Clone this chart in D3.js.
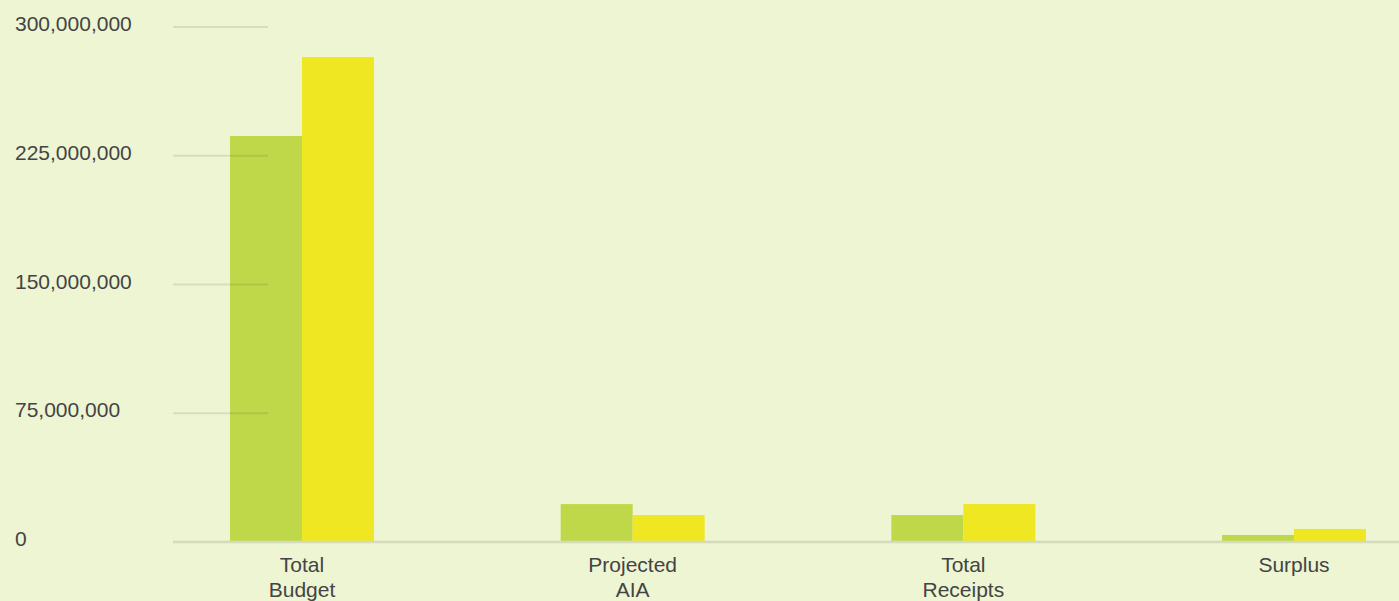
<!DOCTYPE html>
<html>
<head>
<meta charset="utf-8">
<script src="https://cdn.jsdelivr.net/npm/d3@7"></script>
<style>
  html, body { margin: 0; padding: 0; background: #eef5d3; }
  svg { display: block; }
  text { font-family: "Liberation Sans", Arial, Helvetica, sans-serif; fill: #444444; }
</style>
</head>
<body>
<svg id="chart" width="1399" height="601"></svg>
<script>
// Budget categories (labels wrap onto two lines)
const categories = ["Total Budget", "Projected AIA", "Total Receipts", "Surplus"];
const categoryLines = [["Total", "Budget"], ["Projected", "AIA"], ["Total", "Receipts"], ["Surplus"]];

// Two budget periods, one value per category
const seriesFirst = [236200000, 21800000, 15400000, 3800000];
const seriesSecond = [282200000, 15400000, 21800000, 7300000];

const tickValues = [0, 75000000, 150000000, 225000000, 300000000];
const seriesColors = ["#bfd84a", "#eee722"];

const svg = d3.select("#chart");
const W = 1399, H = 601;

const y = d3.scaleLinear().domain([0, 300000000]).range([541.5, 26.5]);
const x = d3.scalePoint().domain(categories).range([302, 1294]);
const sub = d3.scaleBand().domain([0, 1]).range([-72, 72]).padding(0);

const rows = categories.map((c, i) => ({ c, vals: [seriesFirst[i], seriesSecond[i]] }));

// bars
const groups = svg.append("g").selectAll("g").data(rows).join("g")
  .attr("transform", d => `translate(${x(d.c)},0)`);
groups.selectAll("rect").data(d => d.vals.map((v, k) => ({ v, k }))).join("rect")
  .attr("x", d => sub(d.k))
  .attr("width", sub.bandwidth())
  .attr("y", d => y(d.v))
  .attr("height", d => y(0) - y(d.v))
  .attr("fill", d => seriesColors[d.k]);

// short gridlines beside the y labels, drawn over the bars
const yAxis = d3.axisLeft(y).tickValues(tickValues.slice(1))
  .tickSize(95).tickFormat("");
const ga = svg.append("g").attr("transform", "translate(268,0)").call(yAxis);
ga.select(".domain").remove();
ga.selectAll(".tick line").attr("stroke", "rgba(60,70,20,0.13)").attr("stroke-width", 2);

// baseline
svg.append("line")
  .attr("x1", 173).attr("x2", W)
  .attr("y1", y(0) + 0.5).attr("y2", y(0) + 0.5)
  .attr("stroke", "#d6dabd").attr("stroke-width", 2.5);

// y tick labels
svg.append("g").selectAll("text").data(tickValues).join("text")
  .attr("x", 15)
  .attr("y", d => y(d) - 1)
  .attr("dominant-baseline", "middle")
  .style("font-size", "21px")
  .text(d => d3.format(",")(d));

// category labels
const lab = svg.append("g").selectAll("text").data(categories).join("text")
  .attr("x", d => x(d))
  .attr("y", 572)
  .attr("text-anchor", "middle")
  .style("font-size", "21px");
lab.selectAll("tspan").data((d, i) => categoryLines[i]).join("tspan")
  .attr("x", function () { return d3.select(this.parentNode).attr("x"); })
  .attr("dy", (d, i) => i === 0 ? 0 : 25)
  .text(d => d);
</script>
</body>
</html>
